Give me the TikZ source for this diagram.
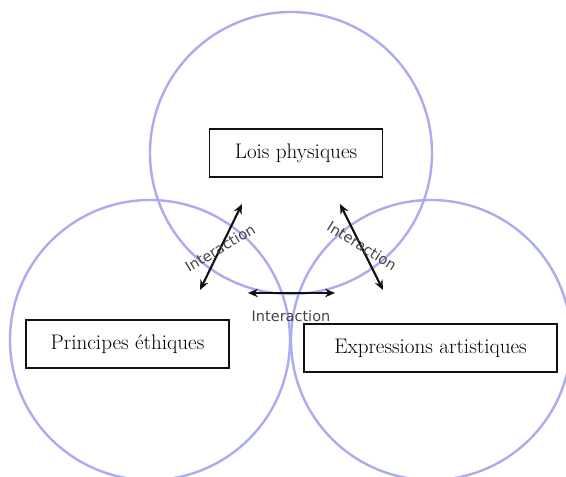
\documentclass[tikz,border=0pt]{standalone}
\usepackage{fontspec}
\usetikzlibrary{arrows.meta, positioning}
\newfontfamily\labfont{DejaVu Sans}
\definecolor{mRing}{HTML}{ABABF0}
\definecolor{mInk}{HTML}{111111}
\definecolor{mGrey}{HTML}{444444}

\begin{document}
\begin{tikzpicture}[
  x=0.025cm, y=-0.025cm,
  ring/.style={draw=mRing, line width=1.7pt},
  domain/.style={draw=mInk, line width=0.8pt, fill=white, minimum width=#1*0.025cm,
                 minimum height=1.2cm, inner sep=0pt, font=\fontsize{15}{17}\selectfont},
  arr/.style={{Stealth[length=7pt,width=6pt]}-{Stealth[length=7pt,width=6pt]}, line width=1.5pt, mInk},
  lab/.style={font=\labfont\fontsize{10.3}{12}\selectfont, text=mGrey, inner sep=1pt}]
  \clip (0,0) rectangle (566,477);
  \useasboundingbox (0,0) rectangle (566,477);
  % circles
  \draw[ring] (291,153) circle (141);
  \draw[ring] (150,340) circle (140);
  \draw[ring] (431,340) circle (140);
  % domains
  \node[domain=173] (lois) at (296,153) {Lois physiques};
  \node[domain=203] (ethique) at (127.5,344) {Principes éthiques};
  \node[domain=253] (art) at (430.5,348) {Expressions artistiques};
  % arrow ends
  \coordinate (l1) at (200,290);  \coordinate (l2) at (242,204);
  \coordinate (r1) at (340,204);  \coordinate (r2) at (383,290);
  \coordinate (b1) at (248,293);  \coordinate (b2) at (335,293);
  % arrows
  \draw[arr] (l1) -- (l2);
  \draw[arr] (r1) -- (r2);
  \draw[arr] (b1) -- (b2);
  % labels
  \node[lab, rotate=31] (labL) at (220,248) {Interaction};
  \node[lab, rotate=-32] (labR) at (362,246) {Interaction};
  \node[lab] (labB) at (291,316) {Interaction};
\end{tikzpicture}
\end{document}
